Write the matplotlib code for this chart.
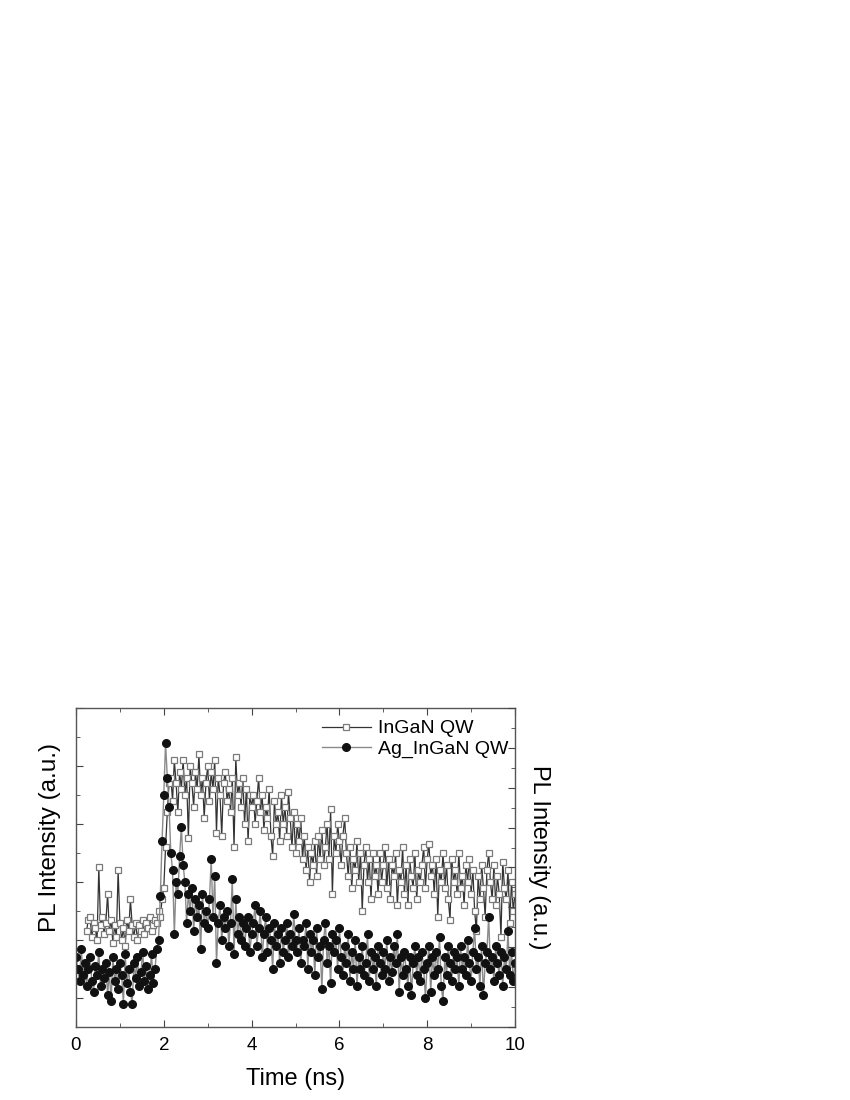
import numpy as np
import matplotlib
matplotlib.use("Agg")
import matplotlib.pyplot as plt
from matplotlib.ticker import MultipleLocator

plt.rcParams['font.family'] = ['Liberation Sans', 'DejaVu Sans']

dt = 0.04  # sampling step (ns)

# InGaN QW, starts at 0.24 ns
ingan_t0 = 0.24
ingan = [
    33, 37, 38, 31, 36, 34, 30, 55, 35, 38, 32, 36, 46, 33, 37, 29, 35, 31, 54, 36,
    30, 34, 28, 37, 33, 44, 35, 31, 36, 30, 35, 33, 37, 32, 36, 34, 38, 33, 35, 37, 36, 40, 38, 44, 48,
    62, 74, 84, 86, 78, 92, 84, 74, 88, 82, 92, 80, 86, 65, 90, 84, 76, 88, 82, 94, 80, 86, 72, 84, 90,
    78, 88, 82, 92, 67, 86, 80, 66, 84, 88, 78, 82, 74, 86, 62, 93, 80, 84, 76, 86, 70, 82, 64, 80, 76,
    80, 70, 78, 86, 74, 80, 68, 76, 72, 82, 66, 59, 78, 70, 74, 64, 80, 70, 76, 66, 81, 72, 62, 74, 60,
    70, 64, 72, 58, 66, 54, 62, 50, 60, 56, 64, 52, 66, 58, 68, 56, 62, 70, 58, 75, 46, 66, 60, 70, 64,
    56, 66, 72, 60, 52, 62, 48, 58, 54, 64, 50, 60, 40, 56, 62, 50, 58, 44, 60, 52, 56, 46, 60, 50, 56,
    62, 48, 58, 44, 56, 52, 60, 42, 54, 50, 62, 46, 56, 42, 58, 52, 48, 60, 44, 54, 50, 56, 62, 48, 58,
    63, 52, 56, 46, 58, 38, 54, 50, 60, 48, 56, 44, 37, 58, 50, 54, 46, 60, 48, 52, 42, 56, 50, 58, 46,
    54, 40, 33, 52, 44, 56, 48, 38, 54, 60, 50, 44, 56, 42, 52, 46, 31, 57, 48, 44, 54, 36, 50, 40, 46,
]

# Ag_InGaN QW, starts at 0 ns
ag_t0 = 0.0
ag = [
    24, 20, 16, 27, 18, 22, 14, 20, 24, 16, 12, 21, 18, 26, 14, 20, 17, 22, 11, 19, 9, 24, 16, 20, 13, 22,
    18, 8, 25, 15, 20, 12, 8, 22, 17, 24, 14, 19, 26, 16, 21, 13, 18, 25, 15, 20, 27, 30, 45, 64, 80,
    98, 86, 76, 60, 54, 32, 50, 46, 59, 69, 56, 50, 36, 46, 40, 48, 33, 44, 38, 42, 27, 46, 36, 40, 34,
    44, 58, 38, 52, 22, 36, 42, 30, 38, 34, 40, 28, 36, 51, 25, 44, 32, 38, 30, 36, 28, 34, 38, 26, 32,
    36, 42, 28, 34, 40, 24, 32, 38, 26, 34, 30, 20, 36, 28, 32, 22, 34, 26, 30, 36, 24, 32, 28, 39, 30,
    26, 34, 22, 30, 28, 36, 20, 32, 26, 30, 18, 34, 24, 28, 13, 30, 36, 22, 28, 15, 32, 26, 30, 20, 34,
    24, 18, 28, 22, 32, 16, 26, 20, 30, 14, 24, 20, 28, 18, 22, 32, 16, 26, 20, 24, 14, 28, 22, 18, 26,
    20, 30, 16, 24, 19, 28, 22, 32, 12, 24, 18, 26, 20, 14, 24, 11, 22, 28, 18, 24, 16, 26, 20, 10, 22,
    28, 12, 24, 18, 26, 20, 31, 14, 9, 24, 18, 28, 22, 16, 26, 20, 24, 14, 28, 20, 24, 18, 30, 22, 16,
    26, 34, 20, 24, 14, 28, 11, 22, 26, 38, 20, 24, 16, 28, 22, 18, 26, 14, 24, 20, 33, 18, 26, 16, 22,
]

t_ingan = ingan_t0 + dt * np.arange(len(ingan))
t_ag = ag_t0 + dt * np.arange(len(ag))

fig = plt.figure(figsize=(8.5, 11), dpi=100)
ax = fig.add_axes([0.0894, 0.0664, 0.5165, 0.29])

ax.plot(t_ingan, ingan, '-', color='#333333', lw=0.9, marker='s', ms=5,
        mfc='white', mec='#7a7a7a', mew=0.9, label='InGaN QW')
ax.plot(t_ag, ag, '-', color='#8a8a8a', lw=1.0, marker='o', ms=5.5,
        mfc='#111111', mec='#111111', label='Ag_InGaN QW')

ax.set_xlim(0, 10)
ax.set_ylim(0, 110)
ax.xaxis.set_major_locator(MultipleLocator(2))
ax.xaxis.set_minor_locator(MultipleLocator(1))
ax.set_yticks([10, 30, 50, 70, 90, 110])
ax.set_yticks([20, 40, 60, 80, 100], minor=True)
ax.set_yticklabels([])
ax.tick_params(axis='x', which='both', direction='in', top=True, labelsize=13.5,
               pad=7, color='#444444')
ax.tick_params(axis='y', which='both', direction='in', right=False, color='#444444')
ax.tick_params(which='major', length=5)
ax.tick_params(which='minor', length=3)
for s in ax.spines.values():
    s.set_color('#555555')
    s.set_linewidth(1.0)

ax.set_xlabel('Time (ns)', fontsize=17, labelpad=10)

ax2 = ax.twinx()
ax2.set_ylim(0, 8)
ax2.yaxis.set_major_locator(MultipleLocator(1))
ax2.yaxis.set_minor_locator(MultipleLocator(0.5))
ax2.set_yticklabels([])
ax2.tick_params(axis='y', which='both', direction='in', color='#444444')
ax2.tick_params(which='major', length=5)
ax2.tick_params(which='minor', length=3)
for s in ax2.spines.values():
    s.set_visible(False)

# axis titles placed where the reference has them
fig.text(50 / 850, 1 - 838 / 1100, 'PL Intensity (a.u.)', fontsize=17.5,
         rotation=90, ha='center', va='center')
fig.text(539 / 850, 1 - 857 / 1100, 'PL Intensity (a.u.)', fontsize=17,
         rotation=270, ha='center', va='center')

leg = ax.legend(loc='upper left', frameon=False, fontsize=14, handlelength=2.5,
                borderaxespad=0, borderpad=0, labelspacing=0.12, handletextpad=0.4,
                bbox_to_anchor=((322 - 76) / 439, 0.963))

fig.savefig('out.png', dpi=100)
